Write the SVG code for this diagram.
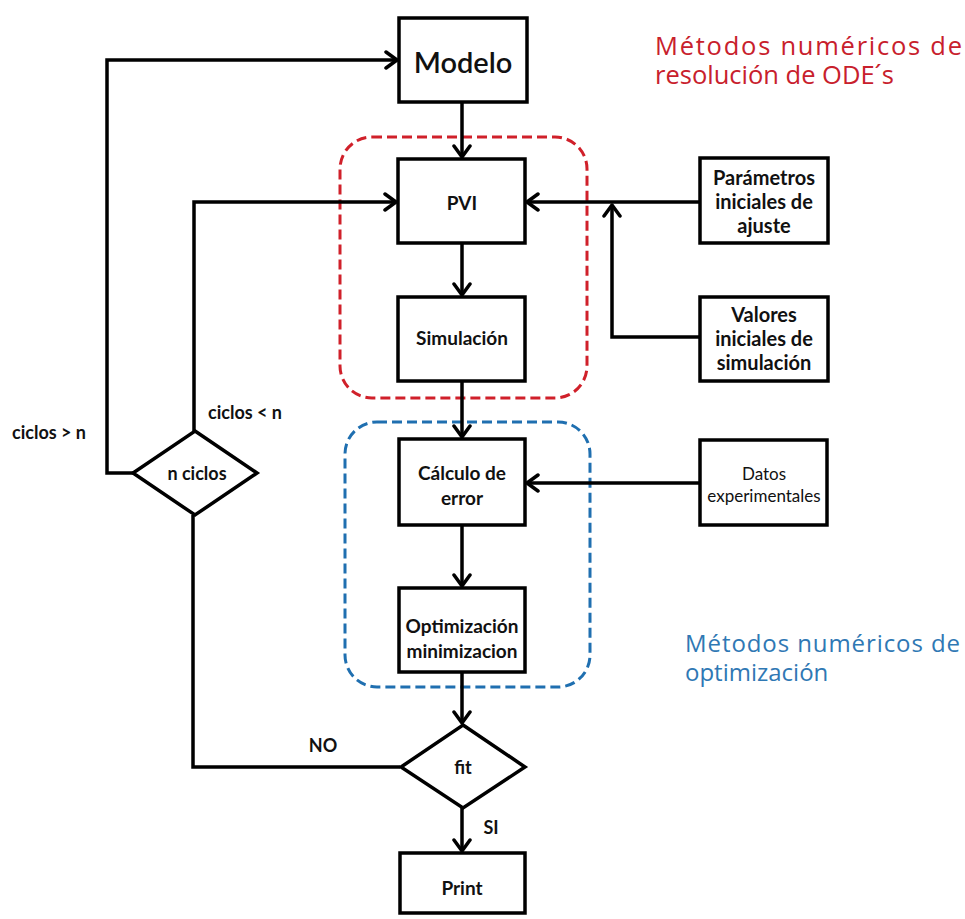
<svg xmlns="http://www.w3.org/2000/svg" width="965" height="919" viewBox="0 0 965 919">
<style>
.box{fill:#fff;stroke:#000;stroke-width:3.5}
.ln{fill:none;stroke:#000;stroke-width:3.5}
.t{font-family:Lato,"Liberation Sans",sans-serif;font-weight:bold;fill:#111;text-anchor:middle;dominant-baseline:central}
.sm{font-size:19px}
.rt{font-size:20px}
.lb{font-size:18px}
.title{font-family:"Open Sans","Liberation Sans",sans-serif;font-size:24px}
</style>
<defs>
<marker id="ah" markerUnits="userSpaceOnUse" markerWidth="16" markerHeight="20" refX="13" refY="10" orient="auto" viewBox="0 0 16 20">
<path d="M2,2 L13,10 L2,18" fill="none" stroke="#000" stroke-width="3.5" stroke-linecap="round" stroke-linejoin="round"/>
</marker>
</defs>
<rect width="965" height="919" fill="#fff"/>
<g id="group-ode">
<rect x="340" y="137" width="247" height="261" rx="32" fill="none" stroke="#d0202a" stroke-width="3" stroke-dasharray="10 5"/>
</g>
<g id="group-opt">
<rect x="345" y="422" width="245" height="265" rx="32" fill="none" stroke="#1f6fb0" stroke-width="3" stroke-dasharray="10 5"/>
</g>
<g id="connectors">
<path class="ln" d="M462,102 V157" marker-end="url(#ah)"/>
<path class="ln" d="M462,243 V295" marker-end="url(#ah)"/>
<path class="ln" d="M462,381 V437" marker-end="url(#ah)"/>
<path class="ln" d="M462,525 V586" marker-end="url(#ah)"/>
<path class="ln" d="M462,672 V723" marker-end="url(#ah)"/>
<path class="ln" d="M462,808 V851" marker-end="url(#ah)"/>
<path class="ln" d="M700,202 H527" marker-end="url(#ah)"/>
<path class="ln" d="M700,337 H612 V205" marker-end="url(#ah)"/>
<path class="ln" d="M700,483 H527" marker-end="url(#ah)"/>
<path class="ln" d="M194,431 V202 H396" marker-end="url(#ah)"/>
<path class="ln" d="M133,473 H107 V60 H397" marker-end="url(#ah)"/>
<path class="ln" d="M400,767 H193 V515"/>
</g>
<g id="modelo">
<rect class="box" x="399" y="18" width="128" height="84"/>
<text class="t" x="463" y="61" style="font-size:29px;font-weight:600">Modelo</text>
</g>
<g id="pvi">
<rect class="box" x="398" y="159" width="127" height="84"/>
<text class="t sm" x="462" y="202">PVI</text>
</g>
<g id="simulacion">
<rect class="box" x="398" y="297" width="127" height="84"/>
<text class="t sm" x="462" y="337">Simulación</text>
</g>
<g id="parametros">
<rect class="box" x="700" y="158" width="128" height="85"/>
<text class="t rt" x="764" y="177">Parámetros</text>
<text class="t rt" x="764" y="201">iniciales de</text>
<text class="t rt" x="764" y="225">ajuste</text>
</g>
<g id="valores">
<rect class="box" x="700" y="297" width="128" height="84"/>
<text class="t rt" x="764" y="314">Valores</text>
<text class="t rt" x="764" y="338">iniciales de</text>
<text class="t rt" x="764" y="362">simulación</text>
</g>
<g id="calculo">
<rect class="box" x="399" y="439" width="126" height="86"/>
<text class="t sm" x="462" y="472">Cálculo de</text>
<text class="t sm" x="462" y="497">error</text>
</g>
<g id="datos">
<rect class="box" x="700" y="440" width="127" height="85"/>
<text class="t" x="764" y="473" style="font-size:17px;font-weight:normal">Datos</text>
<text class="t" x="764" y="495" style="font-size:17px;font-weight:normal">experimentales</text>
</g>
<g id="optimizacion">
<rect class="box" x="399" y="588" width="126" height="84"/>
<text class="t sm" x="462" y="625">Optimización</text>
<text class="t sm" x="462" y="650">minimizacion</text>
</g>
<g id="nciclos">
<polygon class="box" points="195,431 257,473 195,515 133,473"/>
<text class="t lb" x="197" y="473">n ciclos</text>
</g>
<g id="fit">
<polygon class="box" points="463,725 525,767 463,808 401,767"/>
<text class="t lb" x="463" y="767">fit</text>
</g>
<g id="print">
<rect class="box" x="400" y="853" width="125" height="60"/>
<text class="t sm" x="462" y="887">Print</text>
</g>
<g id="labels">
<text class="t lb" x="49" y="432">ciclos &gt; n</text>
<text class="t lb" x="245" y="412">ciclos &lt; n</text>
<text class="t lb" x="323" y="745">NO</text>
<text class="t lb" x="491" y="827">SI</text>
<text class="title" fill="#c8202c" style="font-size:25.5px"><tspan x="655" y="55" textLength="307" lengthAdjust="spacing">Métodos numéricos de</tspan><tspan x="655" y="84">resolución de ODE´s</tspan></text>
<text class="title" fill="#2f78b4"><tspan x="685" y="652" textLength="275" lengthAdjust="spacing">Métodos numéricos de</tspan><tspan x="685" y="681">optimización</tspan></text>
</g>
</svg>
